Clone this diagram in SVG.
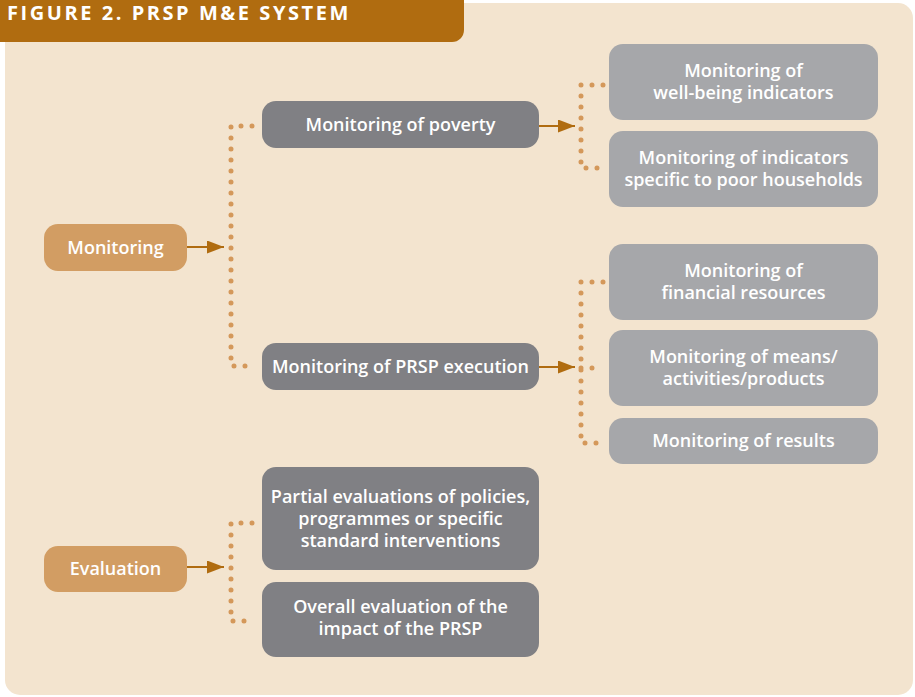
<svg xmlns="http://www.w3.org/2000/svg" width="915" height="697" viewBox="0 0 915 697">
<style>
text{font-family:"Open Sans","Liberation Sans",sans-serif;font-weight:600;font-size:18px;fill:#fff;text-anchor:middle}
.hdr{font-size:20px;font-weight:700;text-anchor:start;letter-spacing:2.55px}
.or{fill:#d29d63}
.dk{fill:#808084}
.lt{fill:#a6a7aa}
.dots{fill:none;stroke:#d4985a;stroke-width:5;stroke-linecap:round;stroke-dasharray:0 11}
.arr{stroke:#b06c10;stroke-width:2.2;fill:none}
</style>
<defs>
<marker id="ah" viewBox="0 0 17 13" refX="17" refY="6.5" markerWidth="17" markerHeight="13" markerUnits="userSpaceOnUse" orient="auto">
<path d="M0,0 L17,6.5 L0,13 Z" fill="#b06c10"/>
</marker>
</defs>
<rect x="0" y="0" width="915" height="697" fill="#fff"/>
<rect x="5" y="3" width="908" height="692" rx="15" fill="#f3e4cf"/>
<g id="header">
<path d="M0,0 H464 V30 A12,12 0 0 1 452,42 H0 Z" fill="#b06c10"/>
<text class="hdr" x="7" y="20">FIGURE 2. PRSP M&amp;E SYSTEM</text>
</g>
<g id="connectors">
<path class="dots" d="M252,126 H231 V366 H252"/>
<path class="dots" d="M603,85 H581 V168 H603"/>
<path class="dots" d="M603,282 H581 V443 H603 M581,368 H603"/>
<path class="dots" d="M252,523 H231 V621 H252"/>
<line class="arr" x1="187" y1="247" x2="224" y2="247" marker-end="url(#ah)"/>
<line class="arr" x1="539" y1="126" x2="575" y2="126" marker-end="url(#ah)"/>
<line class="arr" x1="539" y1="367" x2="575" y2="367" marker-end="url(#ah)"/>
<line class="arr" x1="187" y1="567" x2="224" y2="567" marker-end="url(#ah)"/>
</g>
<g id="monitoring">
<rect class="or" x="44" y="224" width="143" height="47" rx="14"/>
<text x="115.5" y="254">Monitoring</text>
</g>
<g id="evaluation">
<rect class="or" x="44" y="546" width="143" height="46" rx="14"/>
<text x="115.5" y="575">Evaluation</text>
</g>
<g id="poverty">
<rect class="dk" x="262" y="101" width="277" height="47" rx="14"/>
<text x="400.5" y="131">Monitoring of poverty</text>
</g>
<g id="execution">
<rect class="dk" x="262" y="343" width="277" height="47" rx="14"/>
<text x="400.5" y="373">Monitoring of PRSP execution</text>
</g>
<g id="partial">
<rect class="dk" x="262" y="467" width="277" height="103" rx="14"/>
<text x="400.5" y="503">Partial evaluations of policies,</text>
<text x="400.5" y="525">programmes or specific</text>
<text x="400.5" y="547">standard interventions</text>
</g>
<g id="overall">
<rect class="dk" x="262" y="582" width="277" height="75" rx="14"/>
<text x="400.5" y="613">Overall evaluation of the</text>
<text x="400.5" y="635">impact of the PRSP</text>
</g>
<g id="wellbeing">
<rect class="lt" x="609" y="44" width="269" height="76" rx="14"/>
<text x="743.5" y="77">Monitoring of</text>
<text x="743.5" y="99">well-being indicators</text>
</g>
<g id="poorhh">
<rect class="lt" x="609" y="131" width="269" height="76" rx="14"/>
<text x="743.5" y="164">Monitoring of indicators</text>
<text x="743.5" y="186">specific to poor households</text>
</g>
<g id="financial">
<rect class="lt" x="609" y="244" width="269" height="76" rx="14"/>
<text x="743.5" y="277">Monitoring of</text>
<text x="743.5" y="299">financial resources</text>
</g>
<g id="means">
<rect class="lt" x="609" y="330" width="269" height="76" rx="14"/>
<text x="743.5" y="363">Monitoring of means/</text>
<text x="743.5" y="385">activities/products</text>
</g>
<g id="results">
<rect class="lt" x="609" y="418" width="269" height="46" rx="14"/>
<text x="743.5" y="447">Monitoring of results</text>
</g>
</svg>
